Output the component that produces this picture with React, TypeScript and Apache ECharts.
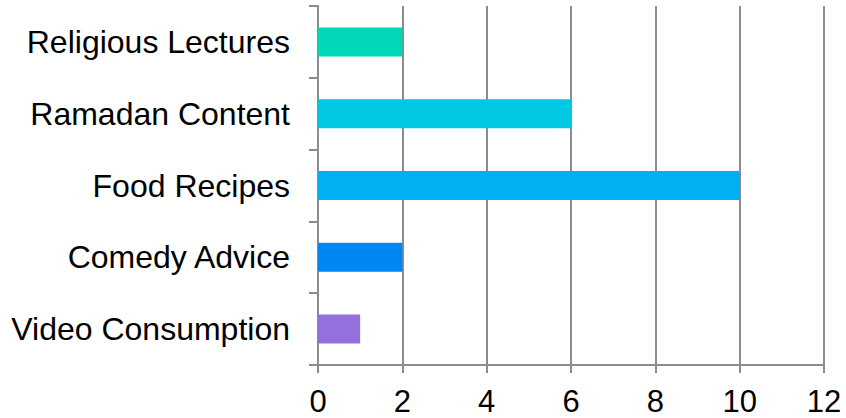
import React, { useEffect, useRef } from "react";
import * as echarts from "echarts";

const categories = [
  "Video Consumption",
  "Comedy Advice",
  "Food Recipes",
  "Ramadan Content",
  "Religious Lectures",
];
const values = [1, 2, 10, 6, 2];
const barColors = ["#9370DB", "#0086F2", "#00B0F0", "#00C8E0", "#00D8BA"];
const xMin = 0;
const xMax = 12;
const xInterval = 2;

const FONT = "'Liberation Sans', Arial, Helvetica, sans-serif";
const GRAY = "#8c8c8c";

export default function App() {
  const ref = useRef<HTMLDivElement>(null);
  useEffect(() => {
    if (!ref.current) return;
    const chart = echarts.init(ref.current, undefined, { renderer: "svg" });
    chart.setOption({
      animation: false,
      backgroundColor: "#ffffff",
      grid: { left: 318, right: 22, top: 6, bottom: 53, containLabel: false },
      xAxis: {
        type: "value",
        min: xMin,
        max: xMax,
        interval: xInterval,
        axisLine: { show: true, lineStyle: { color: GRAY, width: 2 } },
        axisTick: { show: true, length: 8, lineStyle: { color: GRAY, width: 2 } },
        splitLine: { show: true, lineStyle: { color: GRAY, width: 2 } },
        axisLabel: { fontSize: 31, fontFamily: FONT, color: "#000", margin: 22, lineHeight: 29 },
      },
      yAxis: {
        type: "category",
        data: categories,
        axisLine: { show: true, lineStyle: { color: GRAY, width: 2 } },
        axisTick: { show: true, length: 9, lineStyle: { color: GRAY, width: 2 } },
        splitLine: { show: false },
        axisLabel: { fontSize: 32, fontFamily: FONT, color: "#000", margin: 28 },
      },
      series: [
        {
          type: "bar",
          barWidth: 29,
          data: values.map((v, i) => ({ value: v, itemStyle: { color: barColors[i] } })),
        },
      ],
    });
    return () => chart.dispose();
  }, []);
  return (
    <div
      ref={ref}
      style={{ position: "fixed", left: 0, top: 0, width: 846, height: 418, background: "#fff" }}
    />
  );
}
